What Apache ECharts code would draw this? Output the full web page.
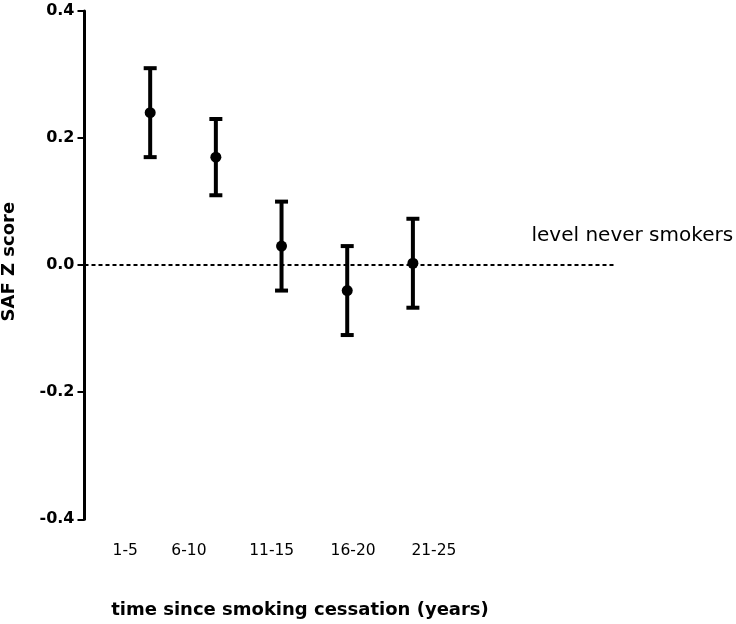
<!DOCTYPE html>
<html>
<head>
<meta charset="utf-8">
<script src="https://cdn.jsdelivr.net/npm/echarts@6/dist/echarts.min.js"></script>
<style>
html,body{margin:0;padding:0;background:#fff;}
#chart{width:736px;height:624px;}
</style>
</head>
<body>
<div id="chart"></div>
<script>
// ---- data ----
const categories = ['1-5', '6-10', '11-15', '16-20', '21-25'];
const groupX = [1, 2, 3, 4, 5];
const means = [0.24, 0.17, 0.03, -0.04, 0.003];
const upper = [0.31, 0.23, 0.10, 0.03, 0.073];
const lower = [0.17, 0.11, -0.04, -0.11, -0.067];
const categoryLabelTicks = [0.62, 1.59, 2.85, 4.09, 5.32];
const referenceLevel = 0;
const referenceLabel = 'level never smokers';
const yTitle = 'SAF Z score';
const xTitle = 'time since smoking cessation (years)';

const FONT = 'DejaVu Sans';
const chart = echarts.init(document.getElementById('chart'), null, {renderer: 'canvas'});

const pointData = groupX.map((x, i) => [x, means[i]]);
const barData = groupX.map((x, i) => [x, lower[i], upper[i]]);

const option = {
  animation: false,
  backgroundColor: '#fff',
  grid: {left: 84.5, top: 11, width: 532, height: 508.3, containLabel: false, outerBoundsMode: 'none'},
  xAxis: {
    type: 'value', min: 0, max: 8.1,
    axisLine: {show: false}, axisTick: {show: false}, splitLine: {show: false},
    axisLabel: {
      customValues: categoryLabelTicks,
      margin: 24,
      color: '#000', fontFamily: FONT, fontSize: 15.5,
      formatter: function (v) {
        let best = 0, d = Infinity;
        categoryLabelTicks.forEach((t, i) => { if (Math.abs(t - v) < d) { d = Math.abs(t - v); best = i; } });
        return categories[best];
      }
    }
  },
  yAxis: {
    type: 'value', min: -0.4, max: 0.4, interval: 0.2,
    name: yTitle, nameLocation: 'middle', nameGap: 66,
    nameTextStyle: {color: '#000', fontFamily: FONT, fontSize: 18, fontWeight: 'bold', padding: [0, 0, 0, 7]},
    axisLine: {show: true, lineStyle: {color: '#000', width: 3}},
    axisTick: {show: true, length: 7, lineStyle: {color: '#000', width: 2}},
    splitLine: {show: false},
    axisLabel: {
      margin: 10, color: '#000', fontFamily: FONT, fontSize: 16, fontWeight: 'bold',
      formatter: v => v.toFixed(1)
    }
  },
  series: [
    {
      type: 'custom',
      data: barData,
      encode: {x: 0, y: [1, 2]},
      z: 3,
      renderItem: function (params, api) {
        const x = api.value(0);
        const pLo = api.coord([x, api.value(1)]);
        const pHi = api.coord([x, api.value(2)]);
        const hw = 6.5;
        const st = {stroke: '#000', lineWidth: 4};
        return {
          type: 'group',
          children: [
            {type: 'line', shape: {x1: pHi[0], y1: pHi[1], x2: pLo[0], y2: pLo[1]}, style: st},
            {type: 'line', shape: {x1: pHi[0] - hw, y1: pHi[1], x2: pHi[0] + hw, y2: pHi[1]}, style: st},
            {type: 'line', shape: {x1: pLo[0] - hw, y1: pLo[1], x2: pLo[0] + hw, y2: pLo[1]}, style: st}
          ]
        };
      }
    },
    {
      type: 'scatter',
      data: pointData,
      symbol: 'circle',
      symbolSize: 11,
      itemStyle: {color: '#000', opacity: 1},
      z: 4,
      markLine: {
        silent: true,
        symbol: ['none', 'none'],
        label: {show: false},
        lineStyle: {color: '#000', width: 2, type: [4, 3], opacity: 1},
        data: [{yAxis: referenceLevel}]
      }
    }
  ],
  graphic: [
    {
      type: 'text', left: 531.5, top: 226,
      style: {text: referenceLabel, fill: '#000', font: '20px "DejaVu Sans"'}
    },
    {
      type: 'text', x: 300, y: 610,
      style: {text: xTitle, fill: '#000', font: 'bold 18px "DejaVu Sans"', align: 'center', verticalAlign: 'middle'}
    }
  ]
};
chart.setOption(option);
</script>
</body>
</html>
